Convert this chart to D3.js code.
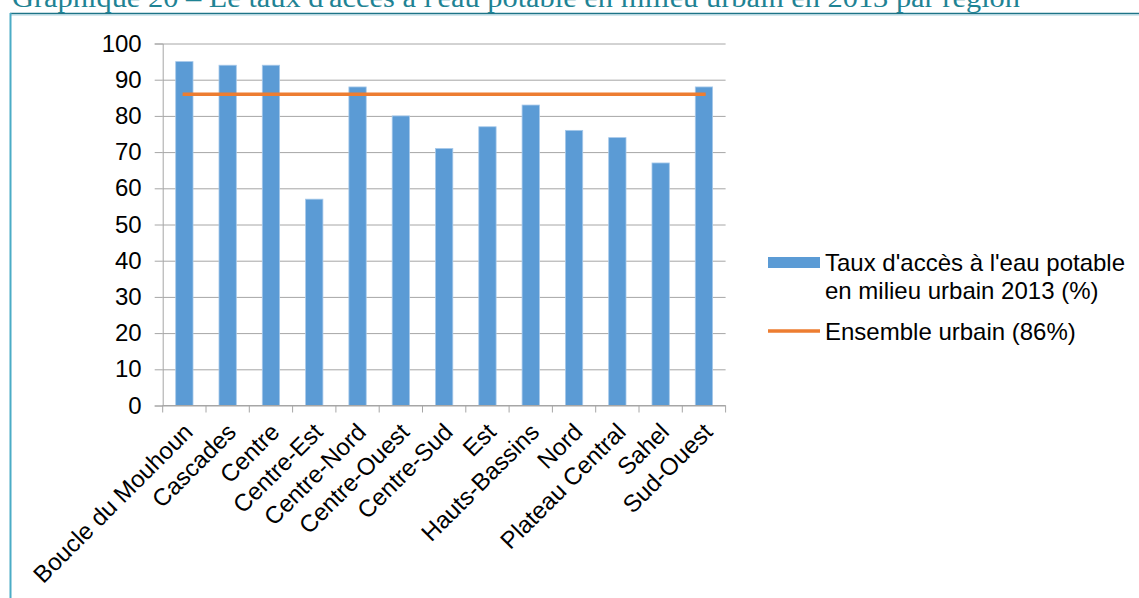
<!DOCTYPE html>
<html lang="fr">
<head>
<meta charset="utf-8">
<script src="https://cdn.jsdelivr.net/npm/d3@7/dist/d3.min.js"></script>
<style>
  html, body { margin: 0; padding: 0; background: #fff; }
  svg { display: block; }
</style>
</head>
<body>
<svg id="chart" width="1139" height="598"></svg>
<script>
// Régions et taux d'accès à l'eau potable en milieu urbain (2013, %)
const regions = ["Boucle du Mouhoun", "Cascades", "Centre", "Centre-Est", "Centre-Nord",
  "Centre-Ouest", "Centre-Sud", "Est", "Hauts-Bassins", "Nord", "Plateau Central", "Sahel", "Sud-Ouest"];
const tauxAcces = [95, 94, 94, 57, 88, 80, 71, 77, 83, 76, 74, 67, 88];
const ensembleUrbain = 86;
const yTicks = [0, 10, 20, 30, 40, 50, 60, 70, 80, 90, 100];
const titre = "Graphique 20 – Le taux d'accès à l'eau potable en milieu urbain en 2013 par région";
const legendeBarres = ["Taux d'accès à l'eau potable", "en milieu urbain 2013 (%)"];
const legendeLigne = "Ensemble urbain (86%)";

const svg = d3.select("#chart");
const font = "'Liberation Sans', Arial, sans-serif";
const blue = "#5B9BD5", orange = "#ED7D31", grid = "#A6A6A6";
const fs = 24;

// Cadre et titre
svg.append("line").attr("x1", 10).attr("x2", 1139).attr("y1", 13.5).attr("y2", 13.5)
  .attr("stroke", "#1E7487").attr("stroke-width", 1.5);
svg.append("line").attr("x1", 10).attr("x2", 1139).attr("y1", 15).attr("y2", 15)
  .attr("stroke", "#A9D2DE").attr("stroke-width", 1);
svg.append("line").attr("x1", 10.5).attr("x2", 10.5).attr("y1", 13).attr("y2", 598)
  .attr("stroke", "#4BACC6").attr("stroke-width", 2);
svg.append("text").attr("x", 12).attr("y", 7)
  .attr("font-family", "'Liberation Serif', 'DejaVu Serif', serif")
  .attr("font-size", 27).attr("fill", "#1F8394")
  .attr("textLength", 1008).attr("lengthAdjust", "spacingAndGlyphs")
  .text(titre);

// Zone de tracé
const plotLeft = 162.7, plotRight = 725.6, plotTop = 43.5, plotBottom = 405.5;
const x = d3.scaleBand().domain(regions).range([plotLeft, plotRight]).paddingInner(0.6).paddingOuter(0.3);
const xb = d3.scaleBand().domain(regions).range([plotLeft, plotRight]);
const y = d3.scaleLinear().domain([0, 100]).range([plotBottom, plotTop]);

// Quadrillage horizontal et graduations de l'axe Y
const yAxis = svg.append("g").attr("transform", `translate(${plotLeft},0)`)
  .call(d3.axisLeft(y).tickValues(yTicks).tickSize(8).tickPadding(13));
yAxis.select(".domain").attr("stroke", grid);
yAxis.selectAll(".tick line").attr("stroke", grid);
yAxis.selectAll(".tick").append("line")
  .attr("x1", 0).attr("x2", plotRight - plotLeft).attr("stroke", grid);
yAxis.selectAll("text").attr("font-family", font).attr("font-size", fs).attr("fill", "#000");

// Barres
svg.append("g").selectAll("rect").data(regions).join("rect")
  .attr("x", d => x(d))
  .attr("width", x.bandwidth())
  .attr("y", (d, i) => y(tauxAcces[i]))
  .attr("height", (d, i) => y(0) - y(tauxAcces[i]))
  .attr("fill", blue)
  .attr("stroke", "#A7C9EA").attr("stroke-width", 0.8);

// Axe X : ligne, graduations aux limites de catégories, libellés inclinés
svg.append("line").attr("x1", plotLeft).attr("x2", plotRight).attr("y1", plotBottom).attr("y2", plotBottom)
  .attr("stroke", grid);
const bounds = regions.map(d => xb(d)).concat([plotRight]);
svg.append("g").selectAll("line").data(bounds).join("line")
  .attr("x1", d => d).attr("x2", d => d)
  .attr("y1", plotBottom).attr("y2", plotBottom + 7).attr("stroke", grid);
svg.append("g").selectAll("text").data(regions).join("text")
  .attr("transform", d => `translate(${xb(d) + xb.bandwidth() / 2 + 4},${plotBottom + 22}) rotate(-45)`)
  .attr("text-anchor", "end")
  .attr("dy", "0.35em")
  .attr("font-family", font).attr("font-size", fs).attr("fill", "#000")
  .text(d => d);

// Ligne de l'ensemble urbain
const first = regions[0], last = regions[regions.length - 1];
svg.append("line")
  .attr("x1", xb(first) + xb.bandwidth() / 2)
  .attr("x2", xb(last) + xb.bandwidth() / 2)
  .attr("y1", y(ensembleUrbain)).attr("y2", y(ensembleUrbain))
  .attr("stroke", orange).attr("stroke-width", 3.5).attr("stroke-linecap", "square");

// Légende
const lg = svg.append("g").attr("font-family", font).attr("font-size", fs).attr("fill", "#000");
lg.append("rect").attr("x", 768).attr("y", 257).attr("width", 52).attr("height", 11).attr("fill", blue);
lg.append("text").attr("x", 825).attr("y", 271).text(legendeBarres[0]);
lg.append("text").attr("x", 825).attr("y", 299).text(legendeBarres[1]);
lg.append("line").attr("x1", 768).attr("x2", 820).attr("y1", 331).attr("y2", 331)
  .attr("stroke", orange).attr("stroke-width", 3.5);
lg.append("text").attr("x", 825).attr("y", 340).text(legendeLigne);
</script>
</body>
</html>
